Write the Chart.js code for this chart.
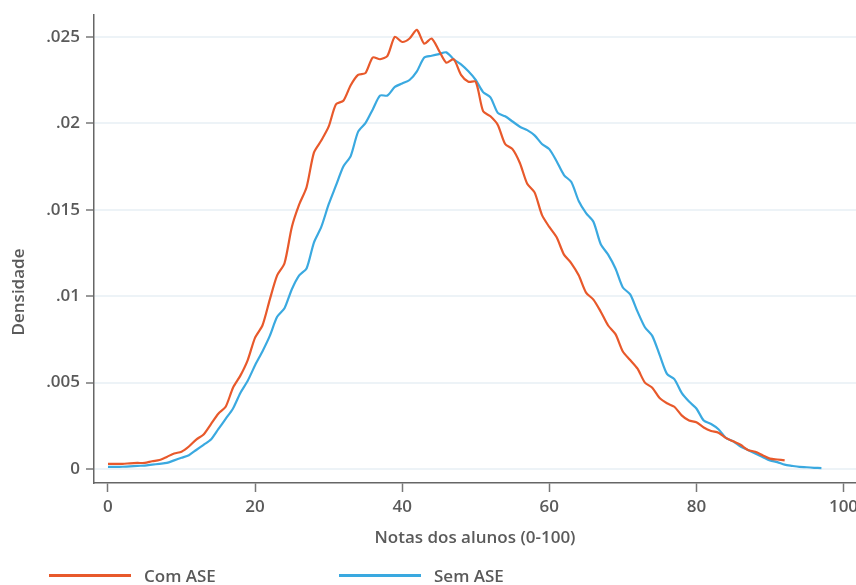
<!DOCTYPE html>
<html lang="pt">
<head>
<meta charset="utf-8">
<title>Densidade das notas dos alunos</title>
<script src="https://cdn.jsdelivr.net/npm/chart.js@4.4.1/dist/chart.umd.min.js"></script>
<style>
  html, body { margin: 0; padding: 0; background: #fff; }
  #wrap { position: relative; width: 856px; height: 585px; overflow: hidden; }
  #grafico { position: absolute; left: 0; top: 0; }
  .traco { position: absolute; top: 574px; width: 82px; height: 3px; }
  .rotulo { position: absolute; top: 566px; font: 600 17px 'Open Sans', sans-serif; line-height: 20px; color: #5a5a5a; white-space: nowrap; }
</style>
</head>
<body>
<div id="wrap">
  <canvas id="grafico" width="856" height="585"></canvas>
  <span class="traco" style="left:49px; background:#e8592b;"></span>
  <span class="rotulo" style="left:144px;">Com ASE</span>
  <span class="traco" style="left:339px; background:#3aa9e0;"></span>
  <span class="rotulo" style="left:434px;">Sem ASE</span>
</div>
<script>
// --- DADOS ---
// notas de 0 a 100, passo de 1 ponto
const notas = Array.from({ length: 98 }, (_, i) => i);

// densidade estimada, alunos com ASE (0 a 92)
const comAse = [
    0.0003, 0.0003, 0.0003, 0.00033, 0.00035, 0.00035, 0.00045, 0.00052, 0.0007, 0.0009,
    0.001, 0.0013, 0.0017, 0.002, 0.0026, 0.0032, 0.0036, 0.0047, 0.0054, 0.0063,
    0.0076, 0.0083, 0.0098, 0.0112, 0.0119, 0.014, 0.0153, 0.0163, 0.0183, 0.019,
    0.0198, 0.0211, 0.0213, 0.0222, 0.0228, 0.0229, 0.0238, 0.0237, 0.0239, 0.025,
    0.0247, 0.0249, 0.0254, 0.0246, 0.0249, 0.0242, 0.0235, 0.0237, 0.0228, 0.0224,
    0.0224, 0.0207, 0.0204, 0.0199, 0.0188, 0.0185, 0.0177, 0.0165, 0.016, 0.0147,
    0.014, 0.0134, 0.0124, 0.0119, 0.0112, 0.0102, 0.0098, 0.0091, 0.0083, 0.0078,
    0.0068, 0.0063, 0.0058, 0.005, 0.0047, 0.0041, 0.0038, 0.0036, 0.0031, 0.0028,
    0.0027, 0.0024, 0.0022, 0.0021, 0.0018, 0.0016, 0.0014, 0.0011, 0.001, 0.0008,
    0.0006, 0.00055, 0.0005
];

// densidade estimada, alunos sem ASE (0 a 97)
const semAse = [
    0.00012, 0.00012, 0.00013, 0.00015, 0.00018, 0.0002, 0.00025, 0.0003, 0.00035, 0.0005,
    0.00065, 0.0008, 0.0011, 0.0014, 0.0017, 0.0023, 0.0029, 0.0035, 0.0044, 0.0051,
    0.006, 0.0068, 0.0077, 0.0088, 0.0093, 0.0104, 0.0112, 0.0116, 0.0131, 0.014,
    0.0153, 0.0164, 0.0175, 0.0181, 0.0195, 0.02, 0.0208, 0.0216, 0.0216, 0.0221,
    0.0223, 0.0225, 0.023, 0.0238, 0.0239, 0.024, 0.0241, 0.0237, 0.0234, 0.023,
    0.0225, 0.0218, 0.0215, 0.0206, 0.0204, 0.0201, 0.0198, 0.0196, 0.0193, 0.0188,
    0.0185, 0.0178, 0.017, 0.0166, 0.0155, 0.0148, 0.0143, 0.013, 0.0124, 0.0116,
    0.0105, 0.0101, 0.0091, 0.0082, 0.0077, 0.0066, 0.0055, 0.0052, 0.0044, 0.0039,
    0.0035, 0.0028, 0.0026, 0.0023, 0.0018, 0.0016, 0.0013, 0.0011, 0.0009, 0.0007,
    0.0005, 0.0004, 0.00025, 0.00018, 0.00012, 0.0001, 0.00007, 0.00005
];

// marcas dos eixos
const ticksX = [0, 20, 40, 60, 80, 100];
const ticksY = [0, 0.005, 0.01, 0.015, 0.02, 0.025];
const rotulosY = ['0', '.005', '.01', '.015', '.02', '.025'];

const fonte = { family: "'Open Sans', sans-serif", size: 17, weight: '600' };
const cinza = '#5a5a5a';

// título do eixo Y desenhado à mão para acertar a posição vertical
const tituloY = {
    id: 'tituloY',
    afterDraw(chart) {
        const c = chart.ctx;
        c.save();
        c.translate(24, 292);
        c.rotate(-Math.PI / 2);
        c.font = "600 17px 'Open Sans', sans-serif";
        c.fillStyle = cinza;
        c.textAlign = 'center';
        c.textBaseline = 'alphabetic';
        c.fillText('Densidade', 0, 0);
        c.restore();
    }
};

const ctx = document.getElementById('grafico').getContext('2d');
new Chart(ctx, {
    type: 'line',
    data: {
        datasets: [{
            label: 'Com ASE',
            data: comAse.map((v, i) => ({ x: notas[i], y: v })),
            borderColor: '#e8592b',
            borderWidth: 2.2,
            pointRadius: 0,
            tension: 0.25
        }, {
            label: 'Sem ASE',
            data: semAse.map((v, i) => ({ x: notas[i], y: v })),
            borderColor: '#3aa9e0',
            borderWidth: 2.2,
            pointRadius: 0,
            tension: 0.25
        }]
    },
    options: {
        responsive: false,
        animation: false,
        layout: { padding: { top: 15, right: 0, bottom: 0, left: 0 } },
        plugins: {
            legend: { display: false },
            tooltip: { enabled: false }
        },
        scales: {
            x: {
                type: 'linear',
                min: -1.9,
                max: 101.7,
                afterBuildTicks: s => { s.ticks = ticksX.map(v => ({ value: v })); },
                afterFit: s => { s.height = 102; s.paddingLeft = 0; s.paddingRight = 0; },
                grid: {
                    drawOnChartArea: false,
                    tickLength: 9,
                    tickColor: '#777',
                    tickWidth: 1.5
                },
                border: { color: '#666', width: 1.5 },
                ticks: { color: cinza, font: fonte, padding: 5, maxRotation: 0 },
                title: {
                    display: true,
                    text: 'Notas dos alunos (0-100)',
                    color: cinza,
                    font: fonte,
                    padding: { top: 0, bottom: 37 }
                }
            },
            y: {
                min: -0.00081,
                max: 0.02626,
                afterBuildTicks: s => { s.ticks = ticksY.map(v => ({ value: v })); },
                afterFit: s => { s.width = 94; s.paddingTop = 0; s.paddingBottom = 0; },
                grid: {
                    color: '#edf3f7',
                    lineWidth: 2,
                    tickLength: 8,
                    tickColor: '#777',
                    tickWidth: 1.5
                },
                border: { color: '#666', width: 1.5 },
                ticks: {
                    color: cinza,
                    font: fonte,
                    padding: 6,
                    callback: (v) => {
                        const k = ticksY.indexOf(v);
                        return k >= 0 ? rotulosY[k] : '';
                    }
                }
            }
        }
    },
    plugins: [tituloY]
});
</script>
</body>
</html>
